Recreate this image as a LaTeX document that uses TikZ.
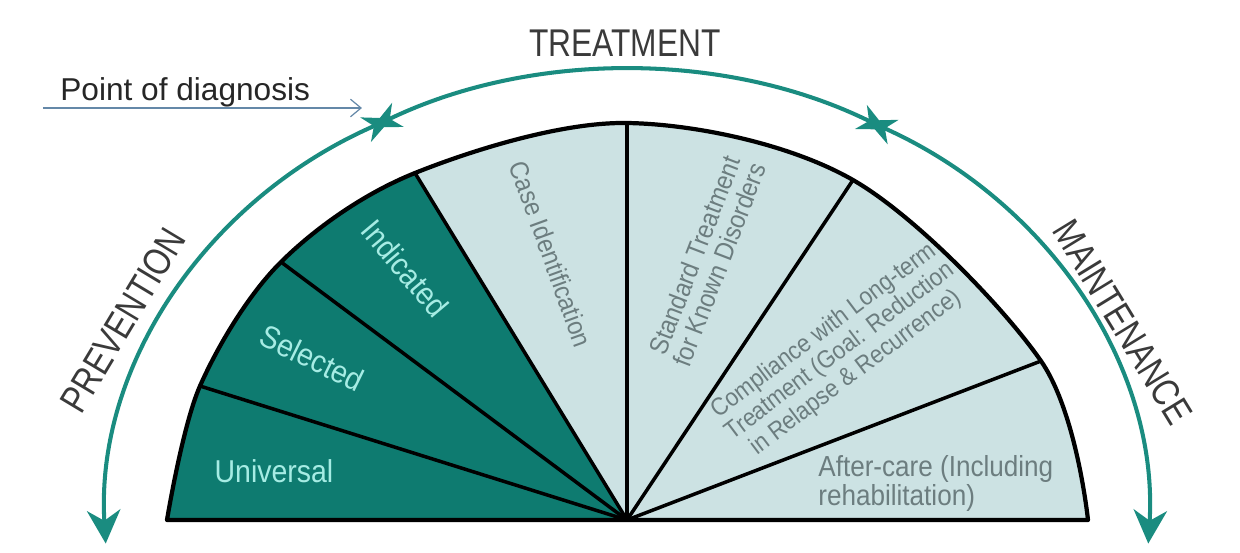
\documentclass[tikz,border=0pt]{standalone}
\usepackage{fontspec}
\setmainfont{Liberation Sans}
\newfontfamily\condensedsf[FakeStretch=0.82]{Liberation Sans}
\newfontfamily\narrowsf[FakeStretch=0.9]{Liberation Sans}
\usetikzlibrary{arrows.meta,calc}
\definecolor{tealdark}{HTML}{0E7B70}
\definecolor{teallight}{HTML}{CCE2E3}
\definecolor{tealarc}{HTML}{1A8C80}
\definecolor{labelcyan}{HTML}{A6ECE4}
\definecolor{labelgrey}{HTML}{6C7D7F}
\definecolor{phasegrey}{HTML}{3A3A3A}
\definecolor{pointerblue}{HTML}{6488A8}
\tikzstyle{phase}=[text=phasegrey, font=\condensedsf\fontsize{22}{24}\selectfont, inner sep=0pt]
\tikzstyle{darklabel}=[text=labelcyan, font=\narrowsf\fontsize{18}{20}\selectfont, inner sep=0pt]
\tikzstyle{lightlabel}=[text=labelgrey, font=\narrowsf\fontsize{15}{15}\selectfont, inner sep=0pt, align=center]
\tikzstyle{spoke}=[line width=2pt, line cap=round]
\tikzstyle{rim}=[line width=2.4pt, line join=round]
\tikzstyle{phasearc}=[tealarc, line width=2.3pt]
\tikzstyle{pointer}=[pointerblue, line width=0.7pt, -{Straight Barb[length=6pt,width=10pt]}]
\newcommand{\smalltip}{Stealth[length=16pt,width=15pt,inset=5pt]}
\newcommand{\bigtip}{Stealth[length=19pt,width=19pt,inset=6pt]}
\newcommand{\fanrim}{plot[smooth,tension=0.55] coordinates {(L0) (b1) (b2) (b3) (b4) (b5) (b6) (R0)}}

\begin{document}
\begin{tikzpicture}[x=0.02cm,y=0.02cm]
    \useasboundingbox (-627,-32) rectangle (613,520);

    % corners of the fan, apex at the origin
    \coordinate (O) at (0,0);
    \coordinate (L0) at (-460,0);
    \coordinate (b1) at (-427,134);
    \coordinate (b2) at (-346,258);
    \coordinate (b3) at (-212,347);
    \coordinate (b4) at (0,397);
    \coordinate (b5) at (226,340);
    \coordinate (b6) at (414,159);
    \coordinate (R0) at (461,0);

    % sectors
    \fill[teallight] \fanrim -- cycle;
    \begin{scope}
        \clip \fanrim -- cycle;
        \fill[tealdark] (O) -- (-560,0) -- (-560,470) -- ($(O)!1.4!(b3)$) -- cycle;
    \end{scope}
    \foreach \b in {b1,b2,b3,b4,b5,b6} {
        \draw[spoke] (O) -- (\b);
    }
    \draw[rim] \fanrim -- cycle;

    % sector labels
    \node[darklabel] (universal) at (-353,49) {Universal};
    \node[darklabel, rotate=-26] (selected) at (-315,162) {Selected};
    \node[darklabel, rotate=-50] (indicated) at (-222,252) {Indicated};
    \node[lightlabel, rotate=-70] (caseid) at (-76,266) {Case Identification};
    \node[lightlabel, rotate=69] (standard) at (80,260) {Standard Treatment\\for Known Disorders};
    \node[lightlabel, rotate=37, font=\narrowsf\fontsize{14.2}{15}\selectfont] (compliance) at (213,168) {Compliance with Long-term\\Treatment (Goal: Reduction\\in Relapse \& Recurrence)};
    \node[lightlabel, align=left, anchor=north west, font=\narrowsf\fontsize{16.5}{15}\selectfont] (aftercare) at (191,65) {After-care (Including\\rehabilitation)};

    % phase arcs
    \coordinate (diagnosis) at (116.8:522 and 450);
    \coordinate (relapse) at (60.2:522 and 450);
    \coordinate (maintstart) at (62.6:522 and 450);
    \draw[phasearc, {\smalltip}-{\bigtip}] (diagnosis) arc[start angle=116.8, end angle=183, x radius=522, y radius=450];
    \draw[phasearc, {\smalltip}-{\smalltip}] (relapse) arc[start angle=60.2, end angle=119.2, x radius=522, y radius=450];
    \draw[phasearc, {\smalltip}-{\bigtip}] (maintstart) arc[start angle=62.6, end angle=-3, x radius=522, y radius=450];

    \node[phase, rotate=59] (prevention) at (-504,200) {PREVENTION};
    \node[phase] (treatment) at (-2,477) {TREATMENT};
    \node[phase, rotate=-58.5] (maintenance) at (496,198) {MAINTENANCE};

    % point of diagnosis
    \node[anchor=base west, inner sep=0pt, text=black!85, font=\fontsize{18}{20}\selectfont] (pointlabel) at (-567,419) {Point of diagnosis};
    \coordinate (pointtail) at (-584,412);
    \coordinate (pointhead) at (-265,412);
    \draw[pointer] (pointtail) -- (pointhead);
\end{tikzpicture}
\end{document}
